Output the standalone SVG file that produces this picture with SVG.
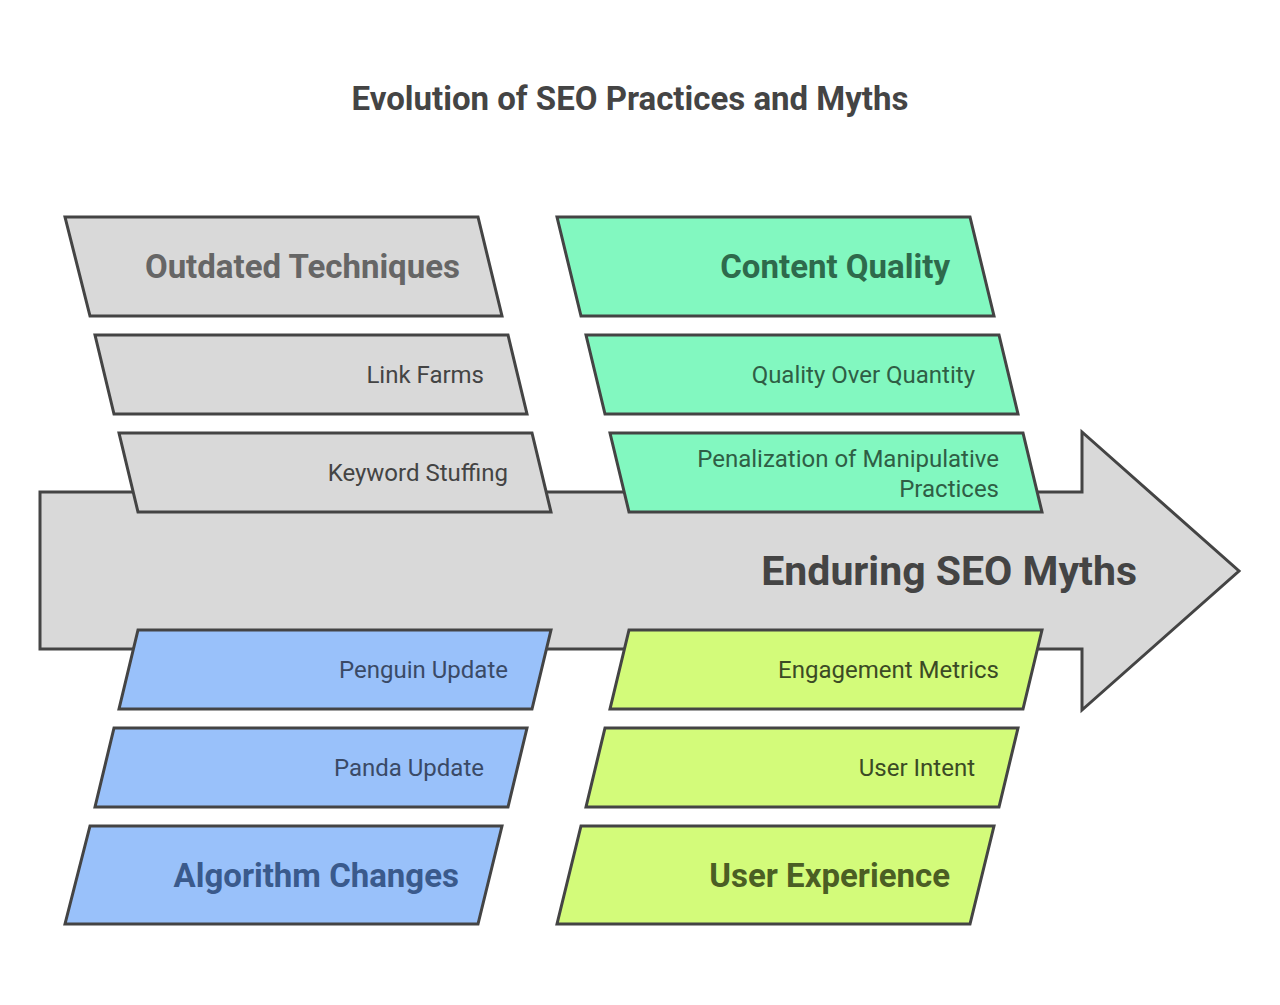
<svg xmlns="http://www.w3.org/2000/svg" width="1280" height="1005" viewBox="0 0 1280 1005">
<style>
text{font-family:Roboto,"Liberation Sans",sans-serif}
.s{stroke:#444;stroke-width:3;stroke-linejoin:miter}
.gray{fill:#d9d9d9}
.green{fill:#82f8c0}
.blue{fill:#99c1fa}
.lime{fill:#d3fb7a}
.big{font-size:33px;font-weight:bold;text-anchor:end}
.sm{font-size:24px;text-anchor:end}
.tg{fill:#666}
.tgs{fill:#444}
.tgr{fill:#2e6a4c}
.tgrs{fill:#2f5e45}
.tb{fill:#3a5a8c}
.tbs{fill:#3a4a66}
.tl{fill:#4b5e24}
.tls{fill:#3b4a25}
</style>
<text x="630" y="110" font-size="33" font-weight="bold" fill="#444" text-anchor="middle">Evolution of SEO Practices and Myths</text>
<g id="main-arrow">
<path class="s gray" d="M40,492 H1082 V432 L1239,571 L1082,710 V649 H40 Z"/>
<text x="1137" y="585" font-size="41" font-weight="bold" fill="#444" text-anchor="end">Enduring SEO Myths</text>
</g>
<g id="outdated-techniques">
<path class="s gray" d="M65,217 H478 L502,316 H90 Z"/>
<text class="big tg" x="460" y="278">Outdated Techniques</text>
</g>
<g id="link-farms">
<path class="s gray" d="M95,335 H508 L527,414 H114 Z"/>
<text class="sm tgs" x="484" y="383">Link Farms</text>
</g>
<g id="keyword-stuffing">
<path class="s gray" d="M119,433 H532 L551,512 H138 Z"/>
<text class="sm tgs" x="508" y="481">Keyword Stuffing</text>
</g>
<g id="content-quality">
<path class="s green" d="M557,217 H970 L994,316 H581 Z"/>
<text class="big tgr" x="950" y="278">Content Quality</text>
</g>
<g id="quality-over-quantity">
<path class="s green" d="M586,335 H999 L1018,414 H605 Z"/>
<text class="sm tgrs" x="975" y="383">Quality Over Quantity</text>
</g>
<g id="penalization">
<path class="s green" d="M610,433 H1023 L1042,512 H629 Z"/>
<text class="sm tgrs" x="999" y="467">Penalization of Manipulative</text>
<text class="sm tgrs" x="999" y="497">Practices</text>
</g>
<g id="penguin-update">
<path class="s blue" d="M138,630 H551 L532,709 H119 Z"/>
<text class="sm tbs" x="508" y="678">Penguin Update</text>
</g>
<g id="panda-update">
<path class="s blue" d="M114,728 H527 L508,807 H95 Z"/>
<text class="sm tbs" x="484" y="776">Panda Update</text>
</g>
<g id="algorithm-changes">
<path class="s blue" d="M90,826 H502 L478,924 H65 Z"/>
<text class="big tb" x="459" y="887">Algorithm Changes</text>
</g>
<g id="engagement-metrics">
<path class="s lime" d="M629,630 H1042 L1023,709 H610 Z"/>
<text class="sm tls" x="999" y="678">Engagement Metrics</text>
</g>
<g id="user-intent">
<path class="s lime" d="M605,728 H1018 L999,807 H586 Z"/>
<text class="sm tls" x="975" y="776">User Intent</text>
</g>
<g id="user-experience">
<path class="s lime" d="M581,826 H994 L970,924 H557 Z"/>
<text class="big tl" x="950" y="887">User Experience</text>
</g>
<g id="connectors"></g>
</svg>
